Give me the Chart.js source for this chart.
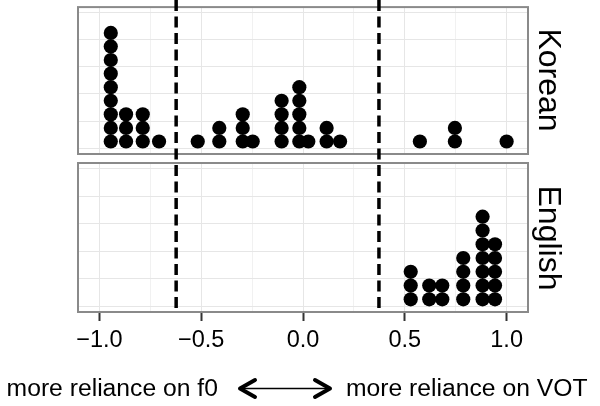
<!DOCTYPE html>
<html>
<head>
<meta charset="utf-8">
<script src="https://cdn.jsdelivr.net/npm/chart.js@4/dist/chart.umd.min.js"></script>
<style>
  body { margin: 0; width: 600px; height: 406px; background: #fff; position: relative; overflow: hidden; font-family: "Liberation Sans", Arial, sans-serif; }
  canvas { position: absolute; left: 0; top: 0; }
  .faixa { position: absolute; width: 200px; height: 32px; line-height: 32px; font-size: 32px; text-align: center; color: #000; transform: rotate(90deg); }
  .legenda { position: absolute; font-size: 24.7px; line-height: 24.7px; color: #000; white-space: nowrap; }
  #seta { position: absolute; left: 230px; top: 372px; }
</style>
</head>
<body>
<canvas id="graficoCoreano" width="600" height="406"></canvas>
<canvas id="graficoIngles" width="600" height="406"></canvas>

<div class="faixa" style="left: 450px; top: 64px;">Korean</div>
<div class="faixa" style="left: 450px; top: 222px;">English</div>

<div class="legenda" style="left: 6.6px; top: 375.8px;">more reliance on f0</div>
<svg id="seta" width="110" height="34">
  <line x1="10" y1="16.5" x2="100" y2="16.5" stroke="#000" stroke-width="1.6" />
  <polyline points="25,8 10,16.5 25,25" fill="none" stroke="#000" stroke-width="4" stroke-linecap="round" stroke-linejoin="round" />
  <polyline points="85,8 100,16.5 85,25" fill="none" stroke="#000" stroke-width="4" stroke-linecap="round" stroke-linejoin="round" />
</svg>
<div class="legenda" style="left: 346px; top: 375.8px;">more reliance on VOT</div>

<script>
// Dados (posição no eixo x e quantidade de pontos empilhados)
const posicoesCoreano = [-0.944, -0.869, -0.787, -0.707, -0.517, -0.411, -0.296, -0.247, -0.105, -0.018, 0.026, 0.116, 0.182, 0.574, 0.746, 1.0];
const contagensCoreano = [9, 3, 3, 1, 1, 2, 3, 1, 4, 5, 1, 2, 1, 1, 2, 1];
const posicoesIngles = [0.529, 0.620, 0.684, 0.787, 0.882, 0.943];
const contagensIngles = [3, 2, 2, 4, 7, 5];

// Linhas tracejadas verticais
const linhasCorte = [-0.623, 0.373];

// Eixos
const gradeX = [-1, -0.75, -0.5, -0.25, 0, 0.25, 0.5, 0.75, 1];
const rotulosX = ['\u22121.0', '', '\u22120.5', '', '0.0', '', '0.5', '', '1.0'];
const gradeY = [0, 2, 4, 6, 8, 10];

const limiteX = 1.105;
const corBorda = '#8a8a8a';
const corGrade = '#e6e6e6';

// Transformar contagens em pontos empilhados (um ponto por observação)
function empilharPontos(posicoes, contagens) {
  const pontos = [];
  posicoes.forEach((x, i) => {
    for (let n = 0; n < contagens[i]; n++) {
      pontos.push({ x: x, y: n + 0.5 });
    }
  });
  return pontos;
}

// Moldura do painel
const pluginMoldura = {
  id: 'moldura',
  afterDraw(chart) {
    const { ctx, chartArea } = chart;
    ctx.save();
    ctx.strokeStyle = corBorda;
    ctx.lineWidth = 2;
    ctx.strokeRect(chartArea.left, chartArea.top, chartArea.right - chartArea.left, chartArea.bottom - chartArea.top);
    ctx.restore();
  }
};

// Linhas tracejadas atravessando os dois painéis
const pluginTracejado = {
  id: 'tracejado',
  afterDraw(chart) {
    const { ctx, chartArea } = chart;
    const escalaX = chart.scales.x;
    ctx.save();
    ctx.strokeStyle = '#000';
    ctx.lineWidth = 3.5;
    ctx.setLineDash([11, 5.5]);
    linhasCorte.forEach(valor => {
      const px = escalaX.getPixelForValue(valor);
      ctx.beginPath();
      ctx.moveTo(px, 0);
      ctx.lineTo(px, chartArea.bottom);
      ctx.stroke();
    });
    ctx.restore();
  }
};

function criarPainel(idCanvas, pontos, topo, baixo, comEixo) {
  const ctx = document.getElementById(idCanvas).getContext('2d');
  return new Chart(ctx, {
    type: 'scatter',
    data: {
      datasets: [{
        data: pontos,
        backgroundColor: '#000',
        borderColor: '#000',
        borderWidth: 0,
        pointRadius: 7.1,
        pointHoverRadius: 7.1
      }]
    },
    options: {
      responsive: false,
      animation: false,
      events: [],
      layout: { padding: { left: 78, right: 72, top: topo, bottom: 0 } },
      plugins: { legend: { display: false }, tooltip: { enabled: false } },
      scales: {
        x: {
          type: 'linear',
          min: -limiteX,
          max: limiteX,
          afterBuildTicks: escala => { escala.ticks = gradeX.map(v => ({ value: v })); },
          afterFit: escala => { escala.height = 406 - baixo; },
          border: { display: false },
          grid: {
            color: ctx => (gradeX.indexOf(ctx.tick.value) % 2 === 0 ? corGrade : '#f1f1f1'),
            lineWidth: 1,
            drawTicks: comEixo,
            tickLength: 9,
            tickWidth: 2,
            tickColor: ctx => (rotulosX[gradeX.indexOf(ctx.tick.value)] ? '#333' : 'rgba(0,0,0,0)')
          },
          ticks: {
            display: comEixo,
            padding: 5,
            maxRotation: 0,
            autoSkip: false,
            color: '#000',
            font: { family: 'Liberation Sans', size: 23.5 },
            callback: valor => rotulosX[gradeX.indexOf(valor)] || ''
          }
        },
        y: {
          type: 'linear',
          min: -0.42,
          max: 10.4,
          afterBuildTicks: escala => { escala.ticks = gradeY.map(v => ({ value: v })); },
          afterFit: escala => { escala.width = 0; },
          border: { display: false },
          grid: { color: corGrade, lineWidth: 1, drawTicks: false },
          ticks: { display: false }
        }
      }
    },
    plugins: comEixo ? [pluginMoldura, pluginTracejado] : [pluginMoldura]
  });
}

window.addEventListener('load', () => {
  criarPainel('graficoCoreano', empilharPontos(posicoesCoreano, contagensCoreano), 6, 154, false);
  criarPainel('graficoIngles', empilharPontos(posicoesIngles, contagensIngles), 163, 312, true);
});
</script>
</body>
</html>
